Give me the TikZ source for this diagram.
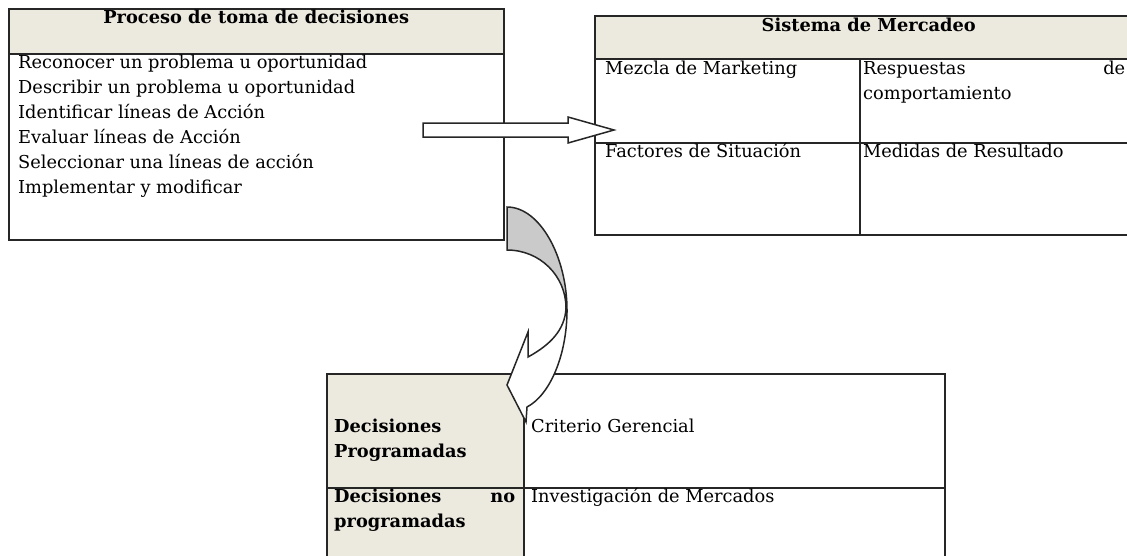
\documentclass[tikz,border=0pt]{standalone}
\usepackage{fontspec}
\setmainfont{DejaVu Serif}
\usetikzlibrary{positioning}
\definecolor{beige}{RGB}{236,233,223}
\definecolor{grisflecha}{RGB}{202,202,202}

\begin{document}
\begin{tikzpicture}[x=1pt,y=-1pt,
	celda/.style={shape=rectangle,draw=black!85,line width=1.5pt,inner sep=0pt,anchor=north west},
	cabecera/.style={celda,fill=beige},
	texto/.style={anchor=base west,inner sep=0pt,font=\fontsize{17.8}{25}\selectfont},
	negrita/.style={texto,font=\fontsize{17.8}{25}\selectfont\bfseries},
	titulo/.style={anchor=base,inner sep=0pt,font=\fontsize{17.8}{25}\selectfont\bfseries},
	bloque/.style={draw=black!85,line width=1.5pt,fill=white,line join=miter}]
	\useasboundingbox (0,0) rectangle (1127,555);

	% proceso de toma de decisiones
	\node (pcab) [cabecera,minimum width=495pt,minimum height=45pt] at (8,8) {};
	\node (pcuerpo) [celda,minimum width=495pt,minimum height=186pt] at (8,53) {};
	\node (ptitulo) [titulo] at ([yshift=-15pt]pcab.north) {Proceso de toma de decisiones};
	\node (paso1) [texto] at ([xshift=10pt,yshift=-15pt]pcuerpo.north west) {Reconocer un problema u oportunidad};
	\node (paso2) [texto] at ([yshift=-25pt]paso1.base west) {Describir un problema u oportunidad};
	\node (paso3) [texto] at ([yshift=-25pt]paso2.base west) {Identificar líneas de Acción};
	\node (paso4) [texto] at ([yshift=-25pt]paso3.base west) {Evaluar líneas de Acción};
	\node (paso5) [texto] at ([yshift=-25pt]paso4.base west) {Seleccionar una líneas de acción};
	\node (paso6) [texto] at ([yshift=-25pt]paso5.base west) {Implementar y modificar};

	% sistema de mercadeo
	\node (mcab) [cabecera,minimum width=548pt,minimum height=43pt] at (594,15) {};
	\node (mmezcla) [celda,minimum width=265pt,minimum height=84pt] at (594,58) {};
	\node (mrespuestas) [celda,minimum width=283pt,minimum height=84pt] at (859,58) {};
	\node (mfactores) [celda,minimum width=265pt,minimum height=92pt] at (594,142) {};
	\node (mmedidas) [celda,minimum width=283pt,minimum height=92pt] at (859,142) {};
	\node (mtitulo) [titulo] at ([yshift=-16pt]mcab.north) {Sistema de Mercadeo};
	\node (tmezcla) [texto] at ([xshift=11pt,yshift=-16pt]mmezcla.north west) {Mezcla de Marketing};
	\node (tresp1) [texto] at ([xshift=4pt,yshift=-16pt]mrespuestas.north west) {\makebox[262pt]{Respuestas\hfill de}};
	\node (tresp2) [texto] at ([yshift=-25pt]tresp1.base west) {comportamiento};
	\node (tfactores) [texto] at ([xshift=11pt,yshift=-15pt]mfactores.north west) {Factores de Situación};
	\node (tmedidas) [texto] at ([xshift=4pt,yshift=-15pt]mmedidas.north west) {Medidas de Resultado};

	% tipos de decisiones
	\node (dprog) [cabecera,minimum width=197pt,minimum height=114pt] at (326,373) {};
	\node (dcriterio) [celda,minimum width=421pt,minimum height=114pt] at (523,373) {};
	\node (dnoprog) [cabecera,minimum width=197pt,minimum height=120pt] at (326,487) {};
	\node (dinvest) [celda,minimum width=421pt,minimum height=120pt] at (523,487) {};
	\node (tprog1) [negrita] at ([xshift=8pt,yshift=-59pt]dprog.north west) {Decisiones};
	\node (tprog2) [negrita] at ([yshift=-25pt]tprog1.base west) {Programadas};
	\node (tnoprog1) [negrita] at ([xshift=8pt,yshift=-15pt]dnoprog.north west) {\makebox[181pt]{Decisiones\hfill no}};
	\node (tnoprog2) [negrita] at ([yshift=-25pt]tnoprog1.base west) {programadas};
	\node (tcriterio) [texto] at ([xshift=8pt,yshift=-59pt]dcriterio.north west) {Criterio Gerencial};
	\node (tinvest) [texto] at ([xshift=8pt,yshift=-15pt]dinvest.north west) {Investigación de Mercados};

	% flecha recta
	\coordinate (fa) at (423,130);
	\coordinate (fb) at (614,130);
	\draw[bloque] (fa) -- ++(0,-7) -- ++(145,0) -- ++(0,-6) -- (fb) -- ++(-46,13) -- ++(0,-6) -- ++(-145,0) -- cycle;

	% flecha curva
	\coordinate (cola) at (507,207);
	\coordinate (punta) at (507,385);
	\draw[bloque,fill=grisflecha] (cola) .. controls (540,207) and (567,257) .. (567,310)
		-- (566,308) .. controls (566,276) and (540,250) .. (507,250) -- cycle;
	\draw[bloque] (567,310) .. controls (567,355) and (550,395) .. (527,407)
		-- (526,422) -- (punta) -- (528,332) -- (528,357)
		.. controls (550,345) and (565,330) .. (566,308) -- cycle;
\end{tikzpicture}
\end{document}
